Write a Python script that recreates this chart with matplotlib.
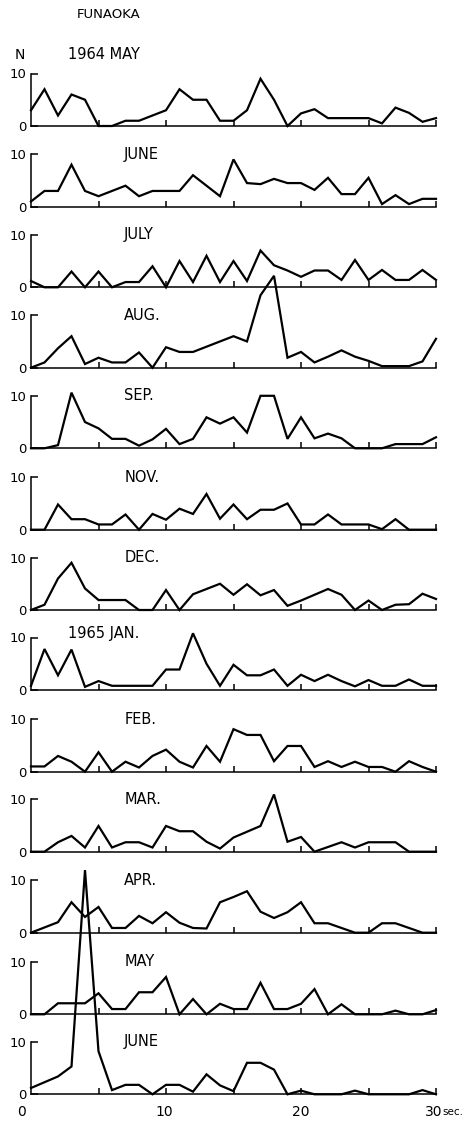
import matplotlib
matplotlib.use("Agg")
import matplotlib.pyplot as plt

plt.rcParams['font.family'] = ['DejaVu Sans']

seconds = list(range(31))

may64 = [3, 7, 2, 6, 5, 0, 0, 1, 1, 2, 3, 7, 5, 5, 1, 1, 3, 9, 5, 0, 2.4, 3.2, 1.5, 1.5, 1.5, 1.5, 0.5, 3.5, 2.5, 0.8, 1.5]
jun64 = [1, 3, 3, 8, 3, 2, 3, 4, 2, 3, 3, 3, 6, 4, 2, 9, 4.5, 4.3, 5.3, 4.5, 4.5, 3.2, 5.5, 2.4, 2.4, 5.5, 0.5, 2.2, 0.5, 1.5, 1.5]
jul64 = [1.2, 0, 0, 3, 0, 3, 0, 1, 1, 4, 0, 5, 1, 6, 1, 5, 1.2, 7, 4.2, 3.2, 2, 3.2, 3.2, 1.4, 5.2, 1.4, 3.3, 1.4, 1.4, 3.3, 1.4]
aug64 = [0, 1, 3.7, 6, 0.7, 1.9, 1, 1, 2.9, 0, 3.9, 3, 3, 4, 5, 6, 5, 13.8, 17.5, 1.9, 3, 1, 2.1, 3.3, 2.1, 1.3, 0.3, 0.3, 0.3, 1.2, 5.5]
sep64 = [0, 0, 0.6, 10.6, 5, 3.8, 1.8, 1.8, 0.5, 1.7, 3.7, 0.8, 1.8, 5.9, 4.7, 5.9, 3, 10, 10, 1.8, 5.9, 1.9, 2.8, 1.9, 0, 0, 0, 0.8, 0.8, 0.8, 2.1]
nov64 = [0, 0, 4.8, 2, 2, 1, 1, 2.9, 0, 3, 1.9, 4, 3, 6.8, 2.1, 4.8, 2, 3.8, 3.8, 5, 1, 1, 2.9, 1, 1, 1, 0.1, 2, 0, 0, 0]
dec64 = [0, 1, 6, 9, 4.1, 1.9, 1.9, 1.9, 0, 0, 3.8, 0, 3, 4, 5, 2.9, 4.9, 2.8, 3.8, 0.8, 1.8, 2.9, 4, 2.9, 0, 1.8, 0, 1, 1.1, 3.1, 2.1]
jan65 = [0.8, 7.8, 2.8, 7.7, 0.6, 1.7, 0.8, 0.8, 0.8, 0.8, 3.9, 3.9, 10.8, 5, 0.8, 4.8, 2.8, 2.8, 3.9, 0.8, 2.9, 1.7, 2.9, 1.7, 0.7, 1.9, 0.8, 0.8, 2, 0.8, 0.8]
feb65 = [1, 1, 3, 1.9, 0, 3.7, 0, 1.9, 0.8, 3, 4.2, 1.9, 0.8, 4.9, 1.9, 8.1, 7, 7, 2, 4.9, 4.9, 0.9, 2, 0.9, 1.9, 0.9, 0.9, 0, 2, 0.9, 0]
mar65 = [0, 0, 1.8, 3, 0.8, 4.9, 0.8, 1.8, 1.8, 0.8, 4.9, 3.9, 3.9, 1.9, 0.6, 2.7, 3.8, 4.9, 10.9, 1.9, 2.8, 0, 0.9, 1.8, 0.8, 1.8, 1.8, 1.8, 0, 0, 0]
apr65 = [0, 1, 2, 5.8, 3, 4.9, 0.9, 0.9, 3.2, 1.8, 3.9, 1.9, 0.9, 0.8, 5.8, 6.8, 7.9, 4, 2.8, 3.9, 5.8, 1.8, 1.8, 0.9, 0, 0, 1.8, 1.8, 0.9, 0, 0]
may65 = [0, 0, 2.1, 2.1, 2.1, 4, 1, 1, 4.2, 4.2, 7.1, 0, 2.9, 0, 2, 1, 1, 6, 1, 1, 2, 4.8, 0, 1.9, 0, 0, 0, 0.7, 0, 0, 0.8]
jun65 = [1.2, 2.3, 3.4, 5.3, 42.7, 8.2, 0.8, 1.8, 1.8, 0, 1.8, 1.8, 0.5, 3.8, 1.7, 0.6, 6, 6, 4.7, 0, 0.7, 0, 0, 0, 0.7, 0, 0, 0, 0, 0.8, 0]

month_labels = ["1964 MAY", "JUNE", "JULY", "AUG.", "SEP.", "NOV.", "DEC.",
                "1965 JAN.", "FEB.", "MAR.", "APR.", "MAY", "JUNE"]
series = [may64, jun64, jul64, aug64, sep64, nov64, dec64,
          jan65, feb65, mar65, apr65, may65, jun65]

title = "FUNAOKA"
y_unit = "N"
x_tick_labels = ["0", "10", "20", "30"]
x_unit = "sec."

# layout (pixels)
W, H = 476, 1122
left_px, right_px = 31, 436
baselines_px = [126, 206.7, 287.3, 367.7, 448.3, 529.7, 610, 690,
                771.7, 851.7, 932.7, 1014.3, 1094.3]
panel_h = 52.5

fig = plt.figure(figsize=(W / 100, H / 100), dpi=100)
fig.patch.set_facecolor("white")

axes = []
for i, (lab, vals) in enumerate(zip(month_labels, series)):
    b = baselines_px[i]
    ax = fig.add_axes([left_px / W, 1 - b / H, (right_px - left_px) / W, panel_h / H])
    ax.patch.set_visible(False)
    ax.set_xlim(0, 30)
    ax.set_ylim(0, 10)
    ax.plot(seconds, vals, color="black", lw=1.6, clip_on=False,
            solid_joinstyle="miter", zorder=3)
    for s in ["top", "right"]:
        ax.spines[s].set_visible(False)
    ax.spines["left"].set_linewidth(1.1)
    ax.spines["bottom"].set_linewidth(1.1)
    ax.set_yticks([0, 10])
    ax.set_yticklabels(["0", "10"], fontsize=9.5)
    ax.tick_params(axis="y", direction="in", length=5, width=1.1, pad=3)
    ax.set_xticks([5, 10, 15, 20, 25, 30])
    ax.set_xticklabels([])
    ax.tick_params(axis="x", direction="in", length=4, width=1.1)
    if i == 0:
        ax.text(2.75, 13.6, lab, fontsize=10.5, va="center", ha="left")
        ax.text(-0.8, 13.6, y_unit, fontsize=10, va="center", ha="center")
    elif i == 7:
        ax.text(2.75, 10.8, lab, fontsize=10.5, va="center", ha="left")
    else:
        ax.text(6.9, 10.0, lab, fontsize=10.5, va="center", ha="left")
    axes.append(ax)

last = axes[-1]
for val, txt in zip([-0.7, 9.9, 20.0, 29.8], x_tick_labels):
    last.text(val, -3.4, txt, fontsize=10, ha="center", va="center")
last.text(30.45, -3.4, x_unit, fontsize=7.5, ha="left", va="center")

fig.text(109 / W, 1 - 14 / H, title, fontsize=9.5, ha="center", va="center")

fig.savefig("out.png", dpi=100, facecolor="white")
